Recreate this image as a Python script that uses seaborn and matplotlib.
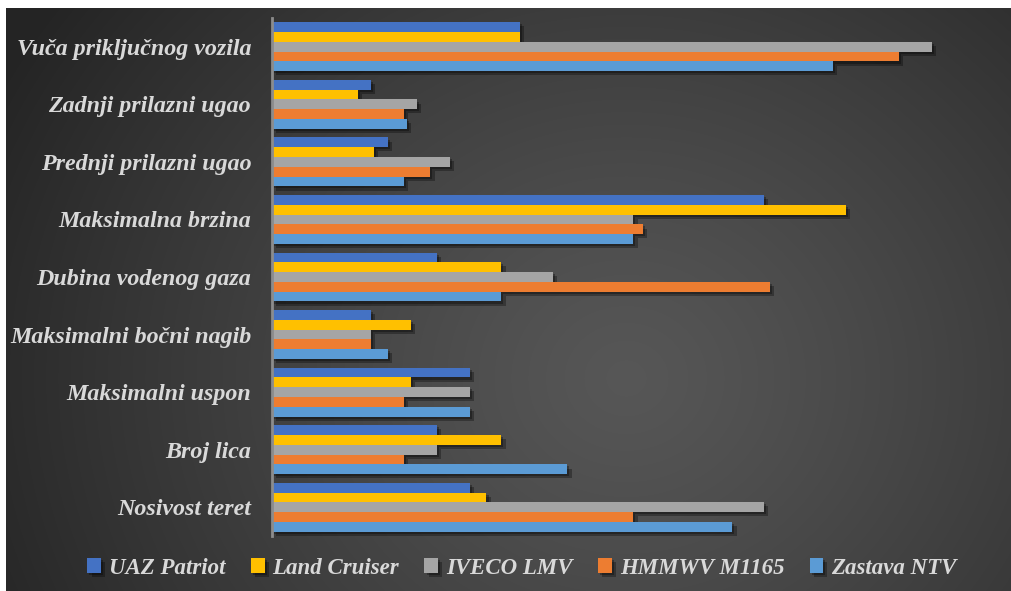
import numpy as np
import pandas as pd
import matplotlib
matplotlib.use('Agg')
import matplotlib.pyplot as plt
import matplotlib.patheffects as pe
import seaborn as sns

# categories (top to bottom) and series
kategorije = ['Vuča priključnog vozila', 'Zadnji prilazni ugao', 'Prednji prilazni ugao',
              'Maksimalna brzina', 'Dubina vodenog gaza', 'Maksimalni bočni nagib',
              'Maksimalni uspon', 'Broj lica', 'Nosivost teret']
serije = ['UAZ Patriot', 'Land Cruiser', 'IVECO LMV', 'HMMWV M1165', 'Zastava NTV']
boje = ['#4472C4', '#FFC000', '#A5A5A5', '#ED7D31', '#5B9BD5']

uaz_patriot  = [15, 6.0, 7.0, 29.8, 10.0, 6.0, 12.0, 10.0, 12.0]
land_cruiser = [15, 5.2, 6.2, 34.8, 13.9, 8.4, 8.4, 13.9, 13.0]
iveco_lmv    = [40, 8.8, 10.8, 21.9, 17.0, 6.0, 12.0, 10.0, 29.8]
hmmwv_m1165  = [38, 8.0, 9.6, 22.5, 30.2, 6.0, 8.0, 8.0, 21.9]
zastava_ntv  = [34, 8.2, 8.0, 21.9, 13.9, 7.0, 12.0, 17.9, 27.9]

vrijednosti = [uaz_patriot, land_cruiser, iveco_lmv, hmmwv_m1165, zastava_ntv]
df = pd.DataFrame({
    'kategorija': np.tile(kategorije, len(serije)),
    'vozilo': np.repeat(serije, len(kategorije)),
    'vrijednost': np.concatenate(vrijednosti),
})

W, H = 1012, 591
fig = plt.figure(figsize=(W / 100, H / 100), dpi=100)
fig.patch.set_facecolor('white')

# dark radial gradient background
bg = fig.add_axes([6 / W, 0, (W - 6) / W, (H - 8) / H], zorder=0)
yy, xx = np.mgrid[0:583, 0:1006]
r = np.sqrt((xx - 620) ** 2 + ((yy - 370) / 0.9) ** 2)
t = np.clip(r / 700, 0, 1) ** 1.2
g = 0.34 - (0.34 - 0.145) * t
bg.imshow(np.dstack([g, g, g]), aspect='auto', interpolation='bilinear')
bg.axis('off')

ax = fig.add_axes([272 / W, (H - 536) / H, 726 / W, 518 / H], zorder=1)
ax.patch.set_alpha(0)

sns.barplot(data=df, y='kategorija', x='vrijednost', hue='vozilo', order=kategorije,
            hue_order=serije, palette=boje, orient='h', width=0.85, gap=0,
            saturation=1, ax=ax, legend=True)

for p in ax.patches:
    p.set_path_effects([pe.SimplePatchShadow(offset=(3, -3), shadow_rgbFace='black', alpha=0.3),
                        pe.SimplePatchShadow(offset=(1.5, -1.5), shadow_rgbFace='black', alpha=0.3),
                        pe.Normal()])

ax.set_xlim(0, 44)
ax.set_ylim(8.5, -0.5)
ax.set_xlabel('')
ax.set_ylabel('')
ax.set_xticks([])
for s in ['top', 'right', 'bottom']:
    ax.spines[s].set_visible(False)
ax.spines['left'].set_color('#8c8c8c')
ax.spines['left'].set_linewidth(2)
ax.tick_params(axis='y', length=0, pad=15)
for lbl in ax.get_yticklabels():
    lbl.set_fontfamily('Liberation Serif')
    lbl.set_fontstyle('italic')
    lbl.set_fontweight('bold')
    lbl.set_fontsize(17.3)
    lbl.set_color('#D9D9D9')

handles, labels = ax.get_legend_handles_labels()
ax.legend_.remove()
leg = fig.legend(handles, labels, loc='center', bbox_to_anchor=(522 / W, (H - 568) / H),
                 ncol=5, frameon=False, handlelength=0.6, handleheight=0.6,
                 handletextpad=0.35, columnspacing=1.1,
                 prop={'family': 'Liberation Serif', 'style': 'italic', 'weight': 'bold', 'size': 16.5})
for txt in leg.get_texts():
    txt.set_color('#D9D9D9')

fig.savefig('out.png', dpi=100, facecolor=fig.get_facecolor())
